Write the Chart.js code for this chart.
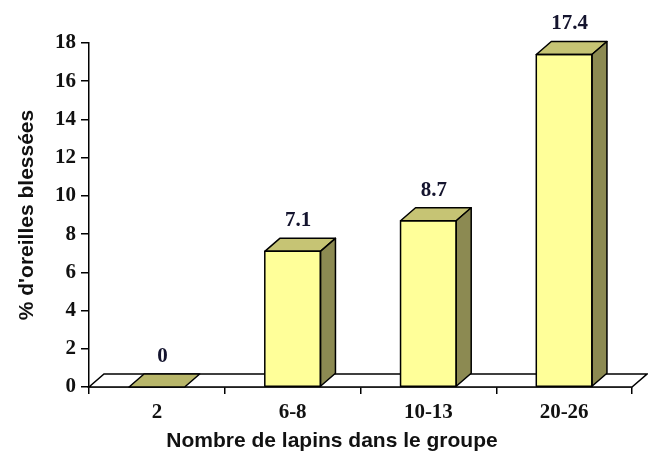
<!DOCTYPE html>
<html>
<head>
<meta charset="utf-8">
<script src="https://cdn.jsdelivr.net/npm/chart.js@4"></script>
<style>
  html, body { margin: 0; padding: 0; background: #fff; }
  #wrap { width: 648px; height: 453px; }
</style>
</head>
<body>
<div id="wrap"><canvas id="myChart"></canvas></div>
<script>
// data
var categories = ['2', '6-8', '10-13', '20-26'];
var injuredPct = [0, 7.1, 8.7, 17.4];
var valueLabels = ['0', '7.1', '8.7', '17.4'];
var yTicks = [0, 2, 4, 6, 8, 10, 12, 14, 16, 18];

var xTitle = 'Nombre de lapins dans le groupe';
var yTitle = "% d'oreilles blessées";

// 3D look
var depthX = 15;
var depthY = 13;
var frontColor = '#FFFF99';
var topColor = '#C6C474';
var sideColor = '#8C8A52';
var zeroColor = '#B8B66A';
var serif = '"Liberation Serif", "Times New Roman", serif';
var sans = '"Liberation Sans", Arial, sans-serif';

function poly(ctx, pts, fill) {
    ctx.beginPath();
    ctx.moveTo(pts[0][0], pts[0][1]);
    for (var i = 1; i < pts.length; i++) ctx.lineTo(pts[i][0], pts[i][1]);
    ctx.closePath();
    if (fill) { ctx.fillStyle = fill; ctx.fill(); }
    ctx.stroke();
}

var bar3d = {
    id: 'bar3d',
    beforeDatasetsDraw: function(chart) {
        // the floor
        var ctx = chart.ctx, a = chart.chartArea;
        ctx.save();
        ctx.strokeStyle = '#000';
        ctx.lineWidth = 1.5;
        poly(ctx, [[a.left, a.bottom], [a.right, a.bottom],
                   [a.right + depthX, a.bottom - depthY], [a.left + depthX, a.bottom - depthY]], '#fff');
        ctx.restore();
    },
    afterDatasetsDraw: function(chart) {
        var ctx = chart.ctx;
        var meta = chart.getDatasetMeta(0);
        ctx.save();
        ctx.strokeStyle = '#000';
        ctx.lineWidth = 1.5;
        ctx.lineJoin = 'round';
        meta.data.forEach(function(bar, i) {
            var p = bar.getProps(['x', 'y', 'base', 'width'], true);
            var l = p.x - p.width / 2, r = p.x + p.width / 2;
            var t = p.y, b = p.base;
            var isZero = injuredPct[i] === 0;
            // top face
            poly(ctx, [[l, t], [r, t], [r + depthX, t - depthY], [l + depthX, t - depthY]],
                 isZero ? zeroColor : topColor);
            if (!isZero) {
                // side face
                poly(ctx, [[r, t], [r + depthX, t - depthY], [r + depthX, b - depthY], [r, b]], sideColor);
                // front outline
                ctx.strokeRect(l, t, r - l, b - t);
            }
            // value label
            ctx.fillStyle = '#14142e';
            ctx.font = 'bold 21px ' + serif;
            ctx.textAlign = 'center';
            ctx.textBaseline = 'bottom';
            ctx.fillText(valueLabels[i], p.x + depthX / 2 - 2, t - depthY - 7);
        });
        ctx.restore();
    },
    afterDraw: function(chart) {
        var ctx = chart.ctx;
        ctx.save();
        ctx.fillStyle = '#111';
        ctx.font = 'bold 21px ' + sans;
        ctx.textAlign = 'center';
        ctx.textBaseline = 'middle';
        ctx.fillText(xTitle, 332, 441);
        ctx.restore();
    }
};

var ctx = document.getElementById('myChart').getContext('2d');
var chart = new Chart(ctx, {
    type: 'bar',
    data: {
        labels: categories,
        datasets: [{
            data: injuredPct,
            backgroundColor: frontColor,
            borderWidth: 0,
            barPercentage: 0.82,
            categoryPercentage: 0.5
        }]
    },
    options: {
        responsive: true,
        maintainAspectRatio: false,
        animation: false,
        layout: { padding: { top: 43, right: 16, left: 0, bottom: 0 } },
        plugins: {
            legend: { display: false },
            tooltip: { enabled: false }
        },
        scales: {
            x: {
                afterFit: function(scale) { scale.height = 66; },
                border: { color: '#000', width: 1.5 },
                grid: { drawOnChartArea: false, color: '#000', lineWidth: 1.5, tickLength: 7, offset: true },
                ticks: {
                    color: '#111',
                    padding: 6,
                    font: { family: serif, size: 21, weight: 'bold' }
                }
            },
            y: {
                min: 0,
                max: 18,
                afterFit: function(scale) { scale.width = 89; },
                afterBuildTicks: function(scale) {
                    scale.ticks = yTicks.map(function(v) { return { value: v }; });
                },
                border: { color: '#000', width: 1.5 },
                grid: { drawOnChartArea: false, color: '#000', lineWidth: 1.5, tickLength: 8 },
                ticks: {
                    color: '#111',
                    padding: 5,
                    font: { family: serif, size: 21, weight: 'bold' }
                },
                title: {
                    display: true,
                    text: yTitle,
                    color: '#111',
                    padding: { top: 15, bottom: 0 },
                    font: { family: sans, size: 21, weight: 'bold' }
                }
            }
        }
    },
    plugins: [bar3d]
});
</script>
</body>
</html>
